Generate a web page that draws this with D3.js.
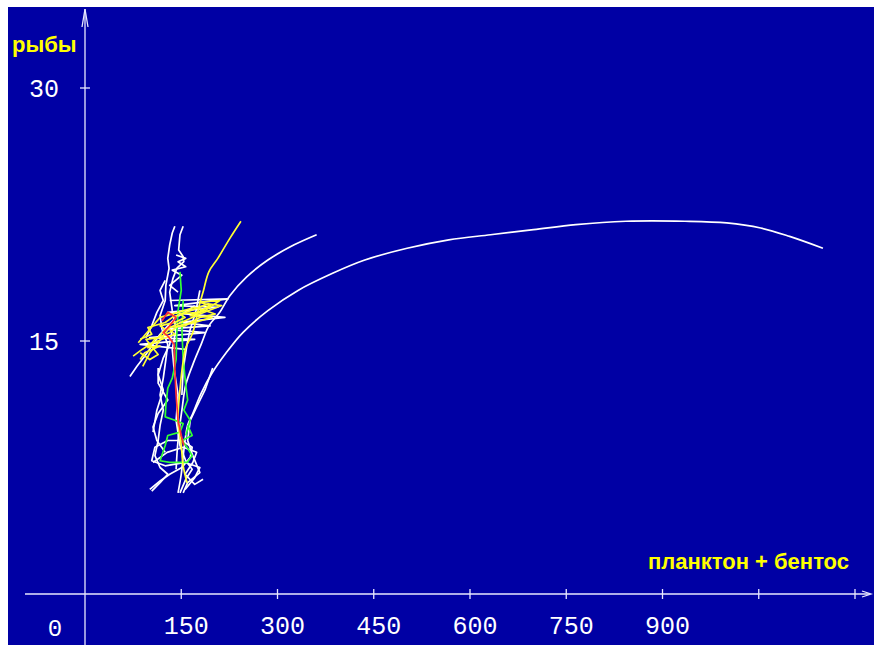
<!DOCTYPE html>
<html>
<head>
<meta charset="utf-8">
<script src="https://cdn.jsdelivr.net/npm/d3@7"></script>
<style>
  body { margin: 0; background: #fff; }
  svg { display: block; }
</style>
</head>
<body>
<script>
// phase trajectories: x = планктон + бентос, y = рыбы
var longCurve = [[1150,20.5],[1098,21.2],[1053,21.7],[1000,22.0],[935,22.1],[843,22.1],[765,21.9],[699,21.6],[632,21.3],[567,21.0],[502,20.5],[436,19.8],[385,19.0],[332,18.0],[285,16.8],[246,15.5],[220,14.3],[198,13.1],[181,11.9],[168,10.7],[160,10.0],[154,8.5],[150,7.1],[145,6.0]];
var midCurve = [[361,21.3],[326,20.7],[285,19.8],[252,18.8],[226,17.7],[210,16.7],[193,15.9],[181,14.8],[168,13.6],[157,12.4],[151,10.9],[145,9.1],[142,7.4]];
var yellowCurve = [[243,22.1],[226,21.1],[207,19.9],[193,19.1],[184,17.9],[178,17.1],[168,15.5],[157,14.6],[153,13.8],[148,12.1],[145,10.3],[150,8.8],[153,7.6],[159,6.6]];

var white1 = [[140,21.8],[136,21.4],[132,20.7],[129,19.9],[131,19.3],[126,18.3],[125,17.4],[117,16.5],[120,15.7],[129,14.8],[126,13.9],[122,12.8],[117,11.8],[122,10.9],[117,10.0],[114,9.1],[109,8.2],[117,7.5],[129,7.1],[117,6.6],[104,6.1]];
var white2 = [[153,21.8],[148,21.3],[146,20.4],[153,20.0],[154,19.7],[143,19.3],[137,18.7],[132,17.9],[136,16.8],[142,15.7],[136,14.5],[139,13.3],[145,11.8],[142,10.3],[148,8.8],[157,7.9],[167,7.4],[157,6.8],[148,6.0]];
var white3 = [[70,12.9],[81,13.5],[93,14.1],[106,14.8],[117,15.4],[129,15.9],[142,16.4],[156,16.7],[171,17.1]];
var white4 = [[132,17.4],[223,17.5],[140,17.1],[207,17.0],[129,16.7],[218,16.4],[148,16.1],[195,15.9],[125,15.7],[187,15.5],[101,15.2],[171,15.1],[86,14.8],[156,14.5]];
var white5 = [[106,9.6],[112,10.9],[122,12.1],[114,13.0],[122,14.0],[132,14.8],[136,15.7]];
var white6 = [[101,6.2],[117,6.7],[132,7.1],[151,7.5],[164,8.1],[167,8.7],[151,9.1],[129,9.1],[109,8.7],[104,7.9],[125,7.6],[156,7.8],[179,7.5],[171,6.9],[156,6.2]];
var white7 = [[199,13.4],[187,12.1],[174,11.1],[164,10.3],[160,9.1],[168,8.2],[179,7.2],[160,6.6],[153,6.0]];
var white8 = [[114,13.4],[114,12.5],[129,11.5],[114,10.7],[106,9.9],[112,9.1],[125,8.4]];
var white9 = [[179,18.0],[173,16.8],[164,15.7],[159,14.8],[153,13.3],[151,11.8]];
var white10 = [[106,7.8],[128,8.4],[153,8.7],[174,8.4],[168,7.8],[156,7.1],[171,6.5],[184,6.8]];
var white11 = [[142,20.1],[157,19.9],[145,19.7],[157,19.4],[136,19.2],[151,18.9],[132,18.3],[145,17.9]];
var white12 = [[125,18.6],[117,18.0],[122,17.4],[112,16.7],[104,15.9],[95,15.2]];

var green1 = [[148,19.1],[150,18.0],[145,16.8],[143,15.4],[142,13.9],[136,12.8],[129,12.2],[126,11.2],[125,10.5],[140,10.3],[153,10.1],[148,9.6],[129,9.4],[125,8.8],[117,7.9],[132,7.8],[159,7.8],[167,8.2],[159,8.7],[151,9.1],[167,9.4],[160,10.0]];
var green2 = [[153,17.4],[151,15.7],[153,13.9],[157,12.4],[160,11.5],[154,10.9],[164,10.3],[157,9.4]];

var red1 = [[120,16.2],[129,16.7],[142,16.4],[132,15.9],[122,15.5],[129,15.3],[139,14.8],[140,13.3],[142,11.8],[145,10.3],[150,9.4],[154,8.8]];

var yellow1 = [[75,14.1],[89,14.5],[101,14.8],[95,15.1],[114,15.2],[125,15.7],[117,15.9],[140,16.1],[156,16.4],[148,16.6],[176,16.7],[195,17.1],[179,17.3],[210,17.4],[187,16.8],[164,16.5],[198,16.4],[171,16.1],[145,15.9],[132,15.5],[109,15.1],[98,14.6],[117,14.7],[93,14.3],[86,13.9]];
var yellow2 = [[86,15.1],[104,15.4],[98,15.8],[125,16.1],[136,16.4],[164,16.8],[192,17.2],[213,17.1],[179,16.6],[156,16.2],[132,15.8],[114,14.9],[101,14.3],[90,13.5]];
var yellow3 = [[86,14.3],[101,13.9],[114,14.2],[101,14.8],[120,15.1],[140,15.4],[129,15.8],[156,15.9],[179,16.4],[203,16.6],[171,17.0],[145,16.7],[117,16.4],[101,15.7],[83,14.9]];

var xTicks = [150, 300, 450, 600, 750, 900, 1050, 1200];
var xTickLabels = ["150", "300", "450", "600", "750", "900", "", ""];
var yTicks = [15, 30];
var yTickLabels = ["15", "30"];

var W = 874, H = 645;
var x = d3.scaleLinear().domain([0, 1200]).range([85, 855]);
var y = d3.scaleLinear().domain([0, 30]).range([594, 88]);

var svg = d3.select("body").append("svg")
    .attr("width", W)
    .attr("height", H);

svg.append("rect")
    .attr("x", 8).attr("y", 7)
    .attr("width", W - 8).attr("height", H - 7)
    .attr("fill", "#0000a4");

var axisColor = "#e8e8ff";

// axes lines
svg.append("line")
    .attr("x1", 25).attr("x2", 870)
    .attr("y1", y(0)).attr("y2", y(0))
    .attr("stroke", axisColor).attr("stroke-width", 1.3);
svg.append("line")
    .attr("x1", x(0)).attr("x2", x(0))
    .attr("y1", 9).attr("y2", H)
    .attr("stroke", axisColor).attr("stroke-width", 1.3);

// arrow heads
svg.append("path")
    .attr("d", "M" + (x(0) - 3) + ",27L" + x(0) + ",9L" + (x(0) + 3) + ",27")
    .attr("fill", "none").attr("stroke", axisColor).attr("stroke-width", 1.3);
svg.append("path")
    .attr("d", "M862," + (y(0) - 3) + "L871," + y(0) + "L862," + (y(0) + 3))
    .attr("fill", "none").attr("stroke", axisColor).attr("stroke-width", 1.3);

// x ticks
svg.selectAll(".xtick")
    .data(xTicks)
    .enter().append("line")
    .attr("class", "xtick")
    .attr("x1", function(d) { return x(d); })
    .attr("x2", function(d) { return x(d); })
    .attr("y1", y(0) - 5).attr("y2", y(0) + 5)
    .attr("stroke", axisColor).attr("stroke-width", 1.3);

svg.selectAll(".xlab")
    .data(xTicks)
    .enter().append("text")
    .attr("class", "xlab")
    .attr("x", function(d) { return x(d) + 5; })
    .attr("y", 634)
    .attr("text-anchor", "middle")
    .attr("fill", "#ffffff")
    .style("font-family", "Liberation Mono, monospace")
    .style("font-size", "25px")
    .text(function(d, i) { return xTickLabels[i]; });

// y ticks
svg.selectAll(".ytick")
    .data(yTicks)
    .enter().append("line")
    .attr("class", "ytick")
    .attr("x1", x(0) - 5).attr("x2", x(0) + 5)
    .attr("y1", function(d) { return y(d); })
    .attr("y2", function(d) { return y(d); })
    .attr("stroke", axisColor).attr("stroke-width", 1.3);

svg.selectAll(".ylab")
    .data(yTicks)
    .enter().append("text")
    .attr("class", "ylab")
    .attr("x", 44)
    .attr("y", function(d) { return y(d) + 9; })
    .attr("text-anchor", "middle")
    .attr("fill", "#ffffff")
    .style("font-family", "Liberation Mono, monospace")
    .style("font-size", "25px")
    .text(function(d, i) { return yTickLabels[i]; });

svg.append("text")
    .attr("x", 55).attr("y", 636)
    .attr("text-anchor", "middle")
    .attr("fill", "#ffffff")
    .style("font-family", "Liberation Mono, monospace")
    .style("font-size", "24px")
    .text("0");

// axis titles
svg.append("text")
    .attr("x", 12).attr("y", 52)
    .attr("fill", "#ffff00")
    .style("font-family", "Liberation Sans, Arial, sans-serif")
    .style("font-weight", "bold")
    .style("font-size", "22px")
    .text("рыбы");

svg.append("text")
    .attr("x", 849).attr("y", 569)
    .attr("text-anchor", "end")
    .attr("fill", "#ffff00")
    .style("font-family", "Liberation Sans, Arial, sans-serif")
    .style("font-weight", "bold")
    .style("font-size", "22px")
    .text("планктон + бентос");

// trajectories
var line = d3.line()
    .x(function(d) { return x(d[0]); })
    .y(function(d) { return y(d[1]); });

var smooth = d3.line()
    .curve(d3.curveCatmullRom)
    .x(function(d) { return x(d[0]); })
    .y(function(d) { return y(d[1]); });

var series = [
    {data: white1, color: "#ffffff"},
    {data: white2, color: "#ffffff"},
    {data: white3, color: "#ffffff"},
    {data: white4, color: "#ffffff"},
    {data: white5, color: "#ffffff"},
    {data: white6, color: "#ffffff"},
    {data: white7, color: "#ffffff"},
    {data: white8, color: "#ffffff"},
    {data: white9, color: "#ffffff"},
    {data: white10, color: "#ffffff"},
    {data: white11, color: "#ffffff"},
    {data: white12, color: "#ffffff"},
    {data: midCurve, color: "#ffffff", smooth: true},
    {data: longCurve, color: "#ffffff", smooth: true},
    {data: green1, color: "#33ff33"},
    {data: green2, color: "#33ff33"},
    {data: yellow1, color: "#ffff33"},
    {data: yellow2, color: "#ffff33"},
    {data: yellow3, color: "#ffff33"},
    {data: yellowCurve, color: "#ffff33", smooth: true},
    {data: red1, color: "#ff3333"}
];

svg.selectAll(".traj")
    .data(series)
    .enter().append("path")
    .attr("class", "traj")
    .attr("d", function(d) { return d.smooth ? smooth(d.data) : line(d.data); })
    .attr("fill", "none")
    .attr("stroke", function(d) { return d.color; })
    .attr("stroke-width", 1.7)
    .attr("stroke-linejoin", "round");
</script>
</body>
</html>
